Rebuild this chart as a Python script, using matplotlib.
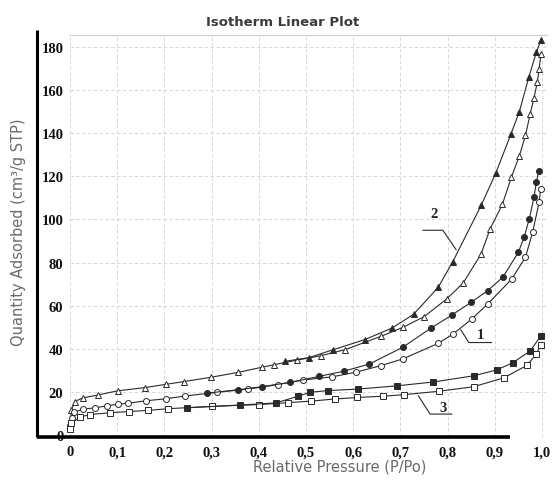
import matplotlib
matplotlib.use("Agg")
import matplotlib.pyplot as plt

# ---------------- data ----------------
title = "Isotherm Linear Plot"
xlabel = "Relative Pressure (P/Po)"
ylabel = "Quantity Adsorbed (cm³/g STP)"

xticks = [0.0, 0.1, 0.2, 0.3, 0.4, 0.5, 0.6, 0.7, 0.8, 0.9, 1.0]
xtick_labels = ["0", "0,1", "0,2", "0,3", "0,4", "0,5", "0,6", "0,7", "0,8", "0,9", "1,0"]
yticks = [0, 20, 40, 60, 80, 100, 120, 140, 160, 180]
ytick_labels = ["0", "20", "40", "60", "80", "100", "120", "140", "160", "180"]

# sample 2 (triangles)
s2_ads_x = [0.001, 0.003, 0.010, 0.027, 0.060, 0.101, 0.159, 0.203, 0.242, 0.299, 0.355,
            0.406, 0.432, 0.482, 0.532, 0.583, 0.659, 0.706, 0.750, 0.798, 0.833, 0.871,
            0.890, 0.916, 0.935, 0.952, 0.965, 0.975, 0.983, 0.990, 0.994, 0.998]
s2_ads_y = [6.0, 11.5, 15.5, 17.2, 18.6, 20.5, 22.0, 23.5, 24.8, 26.8, 29.0,
            31.4, 32.6, 34.8, 36.8, 39.6, 45.8, 50.0, 54.9, 63.1, 70.5, 84.0,
            95.6, 107.0, 119.5, 129.5, 139.0, 149.0, 156.4, 163.6, 170.0, 177.0]
s2_des_x = [0.998, 0.988, 0.972, 0.952, 0.934, 0.902, 0.871, 0.811, 0.780, 0.728, 0.682,
            0.625, 0.558, 0.506, 0.456]
s2_des_y = [183.5, 177.5, 166.0, 150.0, 139.5, 121.5, 106.5, 80.4, 68.5, 56.0, 49.6,
            44.3, 39.6, 35.9, 34.2]

# sample 1 (circles)
s1_ads_x = [0.001, 0.004, 0.008, 0.028, 0.053, 0.079, 0.102, 0.122, 0.162, 0.203, 0.244,
            0.311, 0.378, 0.441, 0.493, 0.556, 0.607, 0.659, 0.705, 0.780, 0.812, 0.851,
            0.885, 0.936, 0.965, 0.980, 0.994, 0.997]
s1_ads_y = [3.5, 8.0, 10.5, 12.0, 12.6, 13.6, 14.3, 14.7, 15.9, 16.8, 18.1,
            19.8, 21.3, 23.4, 25.5, 27.0, 29.2, 32.2, 35.3, 42.5, 46.9, 53.8,
            60.8, 72.4, 82.5, 94.0, 108.0, 114.0]
s1_des_x = [0.993, 0.988, 0.983, 0.973, 0.962, 0.950, 0.917, 0.885, 0.850, 0.810, 0.764,
            0.705, 0.634, 0.580, 0.528, 0.466, 0.406, 0.356, 0.290]
s1_des_y = [122.5, 117.3, 110.3, 100.2, 91.7, 84.8, 73.2, 67.0, 61.6, 55.8, 49.5,
            40.7, 32.9, 29.6, 27.2, 24.4, 22.4, 21.0, 19.4]

# sample 3 (squares)
s3_ads_x = [0.001, 0.003, 0.022, 0.042, 0.084, 0.124, 0.165, 0.207, 0.301, 0.400, 0.461,
            0.510, 0.561, 0.609, 0.663, 0.707, 0.782, 0.855, 0.919, 0.968, 0.988, 0.997]
s3_ads_y = [2.8, 5.5, 8.3, 9.5, 10.3, 10.9, 11.4, 12.2, 13.3, 14.1, 15.0,
            15.7, 16.7, 17.4, 18.0, 18.7, 20.3, 22.4, 26.5, 32.3, 37.6, 41.8]
s3_des_x = [0.997, 0.975, 0.938, 0.904, 0.856, 0.770, 0.692, 0.610, 0.546, 0.508, 0.484,
            0.436, 0.360, 0.247]
s3_des_y = [45.8, 39.0, 33.5, 30.2, 27.5, 24.6, 22.8, 21.3, 20.6, 19.8, 18.0,
            14.9, 13.9, 12.6]

# annotation labels: (text, text position, leader polyline)
ann_labels = ["2", "1", "3"]
ann_text_xy = [(0.772, 103.0), (0.870, 46.4), (0.790, 12.8)]
ann_lines = [
    ([0.748, 0.790, 0.818], [95.0, 95.0, 86.0]),
    ([0.828, 0.845, 0.893], [48.8, 42.9, 42.9]),
    ([0.738, 0.763, 0.809], [18.2, 9.7, 9.7]),
]

# ---------------- figure ----------------
plt.rcParams["font.family"] = ["DejaVu Sans"]
fig = plt.figure(figsize=(5.55, 4.81), dpi=100)
xmin, xmax = -0.0699, 1.0106
ymin, ymax = -0.93, 185.6
ax = fig.add_axes([37 / 555, 1 - 438 / 481, 510 / 555, (438 - 36) / 481])
ax.set_xlim(xmin, xmax)
ax.set_ylim(ymin, ymax)
for s in ax.spines.values():
    s.set_visible(False)

# grid
grid_kw = dict(color="#d0d0d0", lw=0.6, linestyles=(0, (4, 3)), zorder=0)
ax.hlines(yticks[1:], 0, xmax, **grid_kw)
ax.vlines(xticks, ymin, ymax, **grid_kw)
# frame lines
ax.plot([0.0, xmax], [ymax, ymax], color="#cfcfcf", lw=0.8, clip_on=False, zorder=1)
ax.plot([0, 0], [0, 1.012], color="black", lw=2.2, transform=ax.transAxes, clip_on=False,
        solid_capstyle="butt")
ax.plot([0, 0.927], [0, 0], color="black", lw=2.6, transform=ax.transAxes, clip_on=False,
        solid_capstyle="butt")

line_c = "#2a2a2a"
mk = 4.3
def series(x, y, marker, filled):
    ax.plot(x, y, color=line_c, lw=0.8, marker=marker, markersize=mk,
            markerfacecolor=(line_c if filled else "white"), markeredgecolor=line_c,
            markeredgewidth=0.7, zorder=3)

series(s2_ads_x, s2_ads_y, "^", False)
series(s2_des_x, s2_des_y, "^", True)
series(s1_ads_x, s1_ads_y, "o", False)
series(s1_des_x, s1_des_y, "o", True)
series(s3_ads_x, s3_ads_y, "s", False)
series(s3_des_x, s3_des_y, "s", True)

for lab, (tx, ty), (lx, ly) in zip(ann_labels, ann_text_xy, ann_lines):
    ax.plot(lx, ly, color=line_c, lw=0.8, zorder=4)
    ax.text(tx, ty, lab, ha="center", va="center", fontsize=10.5, fontweight="bold",
            family="Liberation Serif", color="#222")

# ticks
ax.set_xticks(xticks)
ax.set_xticklabels(xtick_labels)
ax.set_yticks(yticks)
ax.set_yticklabels(ytick_labels)
ax.tick_params(axis="both", length=0)
ax.tick_params(axis="x", pad=6)
ax.tick_params(axis="y", pad=-19)
for t in ax.get_xticklabels() + ax.get_yticklabels():
    t.set_family("Liberation Serif")
    t.set_fontweight("bold")
    t.set_fontsize(10.5)
    t.set_color("#111")
for t in ax.get_yticklabels():
    t.set_ha("right")

fig.text(283 / 555, 1 - 22 / 481, title, ha="center", va="center", fontsize=9.5,
         fontweight="bold", color="#3a3a3a")
fig.text(340 / 555, 1 - 467 / 481, xlabel, ha="center", va="center", fontsize=10.5,
         color="#6a6a6a")
fig.text(19 / 555, 1 - 232 / 481, ylabel, ha="center", va="center", rotation=90,
         fontsize=10.5, color="#6a6a6a")

fig.savefig("out.png", dpi=100)
